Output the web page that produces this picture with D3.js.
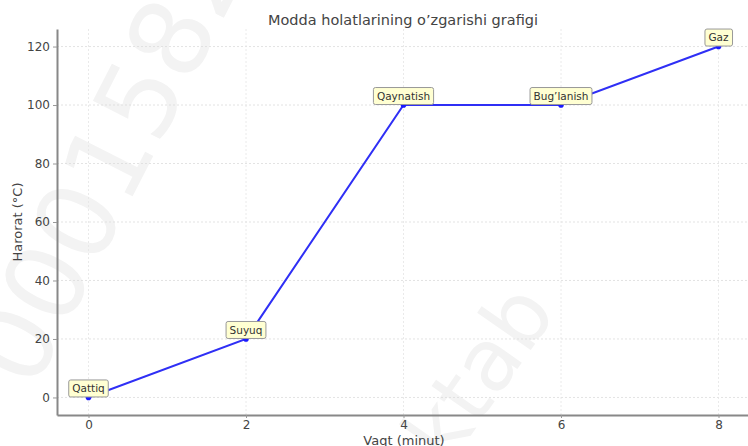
<!DOCTYPE html>
<html>
<head>
<meta charset="utf-8">
<script src="https://cdn.jsdelivr.net/npm/d3@7"></script>
<style>
  body { margin: 0; background: #fff; }
  svg { font-family: "DejaVu Sans", sans-serif; }
</style>
</head>
<body>
<div id="chart"></div>
<script>
// data
var times = [0, 2, 4, 6, 8];
var temps = [0, 20, 100, 100, 120];
var states = ["Qattiq", "Suyuq", "Qaynatish", "Bug\u2019lanish", "Gaz"];
var xTicks = [0, 2, 4, 6, 8];
var yTicks = [0, 20, 40, 60, 80, 100, 120];

var W = 748, H = 446;
var mLeft = 57, mRight = 750, mTop = 29, mBottom = 415;

var svg = d3.select("#chart").append("svg")
  .attr("width", W)
  .attr("height", H);

// watermark
var wm = svg.append("g").style("fill", "#f3f3f3");
wm.append("text")
  .attr("transform", "translate(33,392) rotate(-63)")
  .style("font-size", "108px")
  .text("0001582");
wm.append("text")
  .attr("transform", "translate(448,468) rotate(-55)")
  .style("font-size", "86px")
  .text("ktab");

var x = d3.scaleLinear().domain([-0.4, 8.4]).range([mLeft, mRight]);
var y = d3.scaleLinear().domain([-6, 126]).range([mBottom, mTop]);

//Grid
svg.append("g").selectAll("line")
  .data(yTicks).enter().append("line")
  .attr("x1", mLeft).attr("x2", mRight)
  .attr("y1", d => y(d)).attr("y2", d => y(d))
  .attr("stroke", "#dcdcdc").attr("stroke-width", 0.8)
  .attr("stroke-dasharray", "2,2");

svg.append("g").selectAll("line")
  .data(xTicks).enter().append("line")
  .attr("y1", mTop).attr("y2", mBottom)
  .attr("x1", d => x(d)).attr("x2", d => x(d))
  .attr("stroke", "#e4e4e4").attr("stroke-width", 0.8)
  .attr("stroke-dasharray", "2,2");

//Axes
var xAxis = svg.append("g")
  .attr("transform", "translate(0," + mBottom + ")")
  .call(d3.axisBottom(x).tickValues(xTicks).tickSize(3).tickPadding(2).tickSizeOuter(0));
var yAxis = svg.append("g")
  .attr("transform", "translate(" + mLeft + ",0)")
  .call(d3.axisLeft(y).tickValues(yTicks).tickSize(4).tickPadding(3).tickSizeOuter(0));

[xAxis, yAxis].forEach(function(a) {
  a.select(".domain").attr("stroke", "#888").attr("stroke-width", 2);
  a.selectAll(".tick line").attr("stroke", "#999");
  a.selectAll("text")
    .style("font-family", "DejaVu Sans")
    .style("font-size", "12px")
    .style("fill", "#444");
});

//Line
var line = d3.line()
  .x((d, i) => x(times[i]))
  .y(d => y(d));

svg.append("path")
  .datum(temps)
  .attr("fill", "none")
  .attr("stroke", "#2f2ff5")
  .attr("stroke-width", 2)
  .attr("d", line);

svg.append("g").selectAll("circle")
  .data(temps).enter().append("circle")
  .attr("cx", (d, i) => x(times[i]))
  .attr("cy", d => y(d))
  .attr("r", 2.8)
  .attr("fill", "#1a1aff");

//Annotations
var notes = svg.append("g").selectAll("g")
  .data(states).enter().append("g")
  .attr("transform", (d, i) => "translate(" + x(times[i]) + "," + (y(temps[i]) - 9) + ")");

notes.append("text")
  .attr("text-anchor", "middle")
  .attr("dy", "0.35em")
  .style("font-size", "10.5px")
  .style("fill", "#333")
  .text(d => d);

notes.each(function() {
  var g = d3.select(this);
  var bb = g.select("text").node().getBBox();
  g.insert("rect", "text")
    .attr("x", bb.x - 3.5)
    .attr("y", -8.5)
    .attr("width", bb.width + 7)
    .attr("height", 17)
    .attr("rx", 2)
    .attr("fill", "#ffffd2")
    .attr("stroke", "#999")
    .attr("stroke-width", 1);
});

//Titles
svg.append("text")
  .attr("x", 403).attr("y", 25)
  .attr("text-anchor", "middle")
  .style("font-size", "14.5px")
  .style("fill", "#444")
  .text("Modda holatlarining o\u2019zgarishi grafigi");

svg.append("text")
  .attr("x", 404).attr("y", 445)
  .attr("text-anchor", "middle")
  .style("font-size", "13px")
  .style("fill", "#444")
  .text("Vaqt (minut)");

svg.append("text")
  .attr("transform", "translate(22,222) rotate(-90)")
  .attr("text-anchor", "middle")
  .style("font-size", "13px")
  .style("fill", "#444")
  .text("Harorat (\u00B0C)");
</script>
</body>
</html>
